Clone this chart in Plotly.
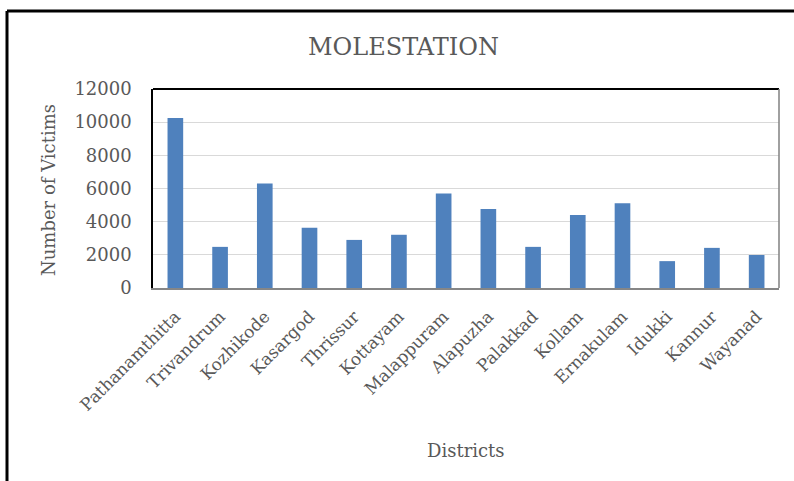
import plotly.graph_objects as go

districts = ["Pathanamthitta", "Trivandrum", "Kozhikode", "Kasargod", "Thrissur",
             "Kottayam", "Malappuram", "Alapuzha", "Palakkad", "Kollam",
             "Ernakulam", "Idukki", "Kannur", "Wayanad"]
victims = [10250, 2480, 6300, 3630, 2900, 3210, 5700, 4770, 2480, 4400, 5110, 1620, 2420, 1990]
y_ticks = [0, 2000, 4000, 6000, 8000, 10000, 12000]

FONT = "DejaVu Serif"
GREY = "#595959"

W, H = 794, 481
L, R, T, B = 153, 15, 89, 193
pw, ph = W - L - R, H - T - B

def px(x):
    return (x - L) / pw

def py(y):
    return (H - B - y) / ph

fig = go.Figure(go.Bar(x=districts, y=victims, marker=dict(color="#4f81bd", line=dict(width=0))))

fig.update_layout(
    width=W, height=H,
    margin=dict(l=L, r=R, t=T, b=B),
    paper_bgcolor="white", plot_bgcolor="white",
    bargap=0.65,
    showlegend=False,
    font=dict(family=FONT, color=GREY, size=17),
)
fig.update_xaxes(
    tickangle=-45, showline=True, linecolor="#868686", linewidth=2,
    showgrid=False, ticks="", ticklabelstandoff=10,
    tickfont=dict(family=FONT, size=17, color=GREY),
)
fig.update_yaxes(
    range=[0, 12000], tickvals=y_ticks, tickformat="d", showgrid=True, gridcolor="#d9d9d9", gridwidth=1,
    zeroline=False, showline=True, linecolor="black", linewidth=1.5,
    ticks="", ticklabelstandoff=16,
    tickfont=dict(family=FONT, size=18, color=GREY),
)

shapes = [
    dict(type="line", xref="paper", yref="paper", x0=0, x1=1, y0=1, y1=1,
         line=dict(color="black", width=2)),
    dict(type="line", xref="paper", yref="paper", x0=1, x1=1, y0=0, y1=1,
         line=dict(color="#808080", width=1.5)),
    dict(type="line", xref="paper", yref="paper", x0=px(7), x1=px(800), y0=py(11), y1=py(11),
         line=dict(color="black", width=3)),
    dict(type="line", xref="paper", yref="paper", x0=px(7), x1=px(7), y0=py(11), y1=py(490),
         line=dict(color="black", width=3)),
]
fig.update_layout(shapes=shapes)

fig.add_annotation(text="MOLESTATION", xref="paper", yref="paper", x=px(403), y=py(47),
                   showarrow=False, font=dict(family=FONT, size=24, color=GREY),
                   xanchor="center", yanchor="middle")
fig.add_annotation(text="Number of Victims", xref="paper", yref="paper", x=px(48), y=py(190),
                   showarrow=False, textangle=-90, font=dict(family=FONT, size=18, color=GREY),
                   xanchor="center", yanchor="middle")
fig.add_annotation(text="Districts", xref="paper", yref="paper", x=px(466), y=py(450),
                   showarrow=False, font=dict(family=FONT, size=18, color=GREY),
                   xanchor="center", yanchor="middle")

fig.write_html("out.html", config={"displayModeBar": False},
               post_script="document.body.style.margin='0';document.body.style.overflow='hidden';")
